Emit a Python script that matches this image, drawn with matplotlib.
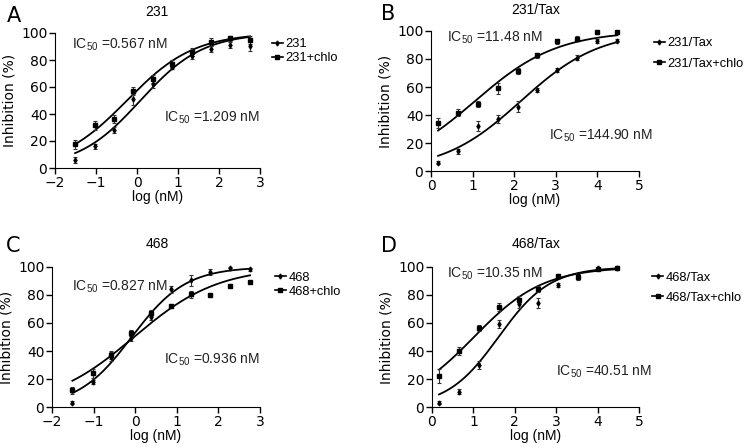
import numpy as np
import matplotlib
matplotlib.use("Agg")
import matplotlib.pyplot as plt

# dose points (log nM)
x_231 = [-1.51, -1.02, -0.57, -0.09, 0.38, 0.86, 1.33, 1.81, 2.28, 2.76]
x_tax = [0.17, 0.65, 1.13, 1.61, 2.09, 2.56, 3.04, 3.52, 4.00, 4.48]

# panel A: 231
a_plain = [6, 16, 28, 51, 62, 75, 83, 88, 91, 90]
a_plain_err = [2.5, 2, 2, 4, 3, 2, 2, 2, 2, 3]
a_chlo = [17.5, 31.5, 36.5, 57, 66, 77, 86, 93, 96, 95]
a_chlo_err = [3.5, 3, 3, 3, 3, 3, 3, 3, 2, 3]

# panel B: 231/Tax
b_plain = [6, 14, 32, 37, 46, 58, 72, 81, 93, 93]
b_plain_err = [1, 2, 3.5, 3, 4, 1.5, 1.5, 2, 1.5, 1]
b_chlo = [34.5, 41.5, 48, 59, 71.5, 82.5, 92.5, 94.5, 99, 99]
b_chlo_err = [3.5, 2.5, 2, 4, 2, 2, 1.5, 2, 1, 1]

# panel C: 468
c_plain = [3, 18, 36, 49, 64.5, 84, 90.5, 96.5, 99, 98.5]
c_plain_err = [1, 1.5, 3, 2, 2, 2.5, 4, 2, 1, 1]
c_chlo = [12, 24, 37, 53, 67, 72, 80.5, 80, 86.5, 89.5]
c_chlo_err = [2.5, 3, 3, 2, 2, 1.5, 2.5, 1, 0.5, 0.5]

# panel D: 468/Tax
d_plain = [3, 11, 30, 59.5, 73.5, 74.5, 87, 94, 99, 99.5]
d_plain_err = [1, 2, 3, 3, 3, 3.5, 1.5, 1.5, 0.5, 0.5]
d_chlo = [22, 40, 56.5, 71.5, 76.5, 84.5, 93.5, 93, 98.5, 99.5]
d_chlo_err = [5, 3, 2, 3, 2.5, 2, 1.5, 2, 0.5, 0.5]

# fitted 4PL curves: (IC50 in nM, hill slope) -> (with chlo, without)
fit_a = [(0.567, 0.53), (1.209, 0.57)]
fit_b = [(11.48, 0.44), (144.90, 0.46)]
fit_c = [(0.827, 0.67), (0.936, 0.43)]
fit_d = [(10.35, 0.52), (40.51, 0.70)]

titles = ["231", "231/Tax", "468", "468/Tax"]
letters = ["A", "B", "C", "D"]
legends = [["231", "231+chlo"], ["231/Tax", "231/Tax+chlo"],
           ["468", "468+chlo"], ["468/Tax", "468/Tax+chlo"]]

TXT = 'Liberation Sans'
plt.rcParams['font.family'] = ['DejaVu Sans']
plt.rcParams['mathtext.fontset'] = 'custom'
plt.rcParams['mathtext.rm'] = TXT
plt.rcParams['mathtext.it'] = TXT + ':italic'

fig = plt.figure(figsize=(7.48, 4.48), dpi=100)

# axes boxes in pixels: left, right, top, bottom
boxes = [(55, 260, 33, 168), (431, 639, 31, 171),
         (52, 260, 267, 407), (432, 639, 267, 407)]
letter_pos = [(14, 16), (388, 14), (13, 246), (389, 246)]
title_pos = [(157, 12), (536, 10), (157, 244), (536, 244)]


def make_ax(box):
    l, r, t, b = box
    return fig.add_axes([l / 748, (448 - b) / 448, (r - l) / 748, (b - t) / 448])


def curve(xs, ic50, hill):
    xx = np.linspace(xs[0], xs[-1], 200)
    yy = 100 / (1 + 10 ** ((np.log10(ic50) - xx) * hill))
    return xx, yy


panels = [
    (x_231, a_plain, a_plain_err, a_chlo, a_chlo_err, fit_a, (-2, 3),
     [("IC$_{50}$ =0.567 nM", -1.59, 91), ("IC$_{50}$ =1.209 nM", 0.66, 37)],
     (1.058, 0.96), 0.12),
    (x_tax, b_plain, b_plain_err, b_chlo, b_chlo_err, fit_b, (0, 5),
     [("IC$_{50}$ =11.48 nM", 0.38, 95), ("IC$_{50}$ =144.90 nM", 2.84, 25)],
     (1.072, 0.955), 0.65),
    (x_231, c_plain, c_plain_err, c_chlo, c_chlo_err, fit_c, (-2, 3),
     [("IC$_{50}$ =0.827 nM", -1.52, 86), ("IC$_{50}$ =0.936 nM", 0.69, 34)],
     (1.072, 0.965), 0.15),
    (x_tax, d_plain, d_plain_err, d_chlo, d_chlo_err, fit_d, (0, 5),
     [("IC$_{50}$ =10.35 nM", 0.36, 95), ("IC$_{50}$ =40.51 nM", 3.0, 25)],
     (1.063, 0.965), 0.6),
]

for i, (xs, yp, ep, yc, ec, fits, xlim, notes, leg_pos, lspace) in enumerate(panels):
    ax = make_ax(boxes[i])

    (ic_c, h_c), (ic_p, h_p) = fits
    ax.errorbar(xs, yp, yerr=ep, fmt='d', ms=2.5, color='black', ecolor='#333333',
                elinewidth=0.8, capsize=1.5, capthick=0.8, clip_on=False, zorder=3)
    ax.errorbar(xs, yc, yerr=ec, fmt='s', ms=2.5, color='black', ecolor='#333333',
                elinewidth=0.8, capsize=1.5, capthick=0.8, clip_on=False, zorder=3)
    xx, yy = curve(xs, ic_p, h_p)
    ax.plot(xx, yy, color='black', lw=1.3)
    xx, yy = curve(xs, ic_c, h_c)
    ax.plot(xx, yy, color='black', lw=1.3)

    # legend handles
    h1, = ax.plot([], [], '-d', color='black', ms=2.5, lw=1.2)
    h2, = ax.plot([], [], '-s', color='black', ms=2.5, lw=1.2)
    ax.legend([h1, h2], legends[i], loc='upper left', bbox_to_anchor=leg_pos,
              frameon=False, prop={'family': TXT, 'size': 9.3},
              handlelength=0.85, handletextpad=0.2,
              labelspacing=lspace, borderaxespad=0, borderpad=0)

    for text, tx, ty in notes:
        ax.text(tx, ty, text, fontsize=10, family=TXT, ha='left', va='center',
                color='#222222')

    ax.set_xlim(*xlim)
    ax.set_ylim(0, 100)
    ax.set_xticks(np.arange(xlim[0], xlim[1] + 1, 1))
    ax.set_yticks(np.arange(0, 101, 20))
    ax.set_xticklabels([str(v).replace('-', '\u2212') for v in range(xlim[0], xlim[1] + 1)])
    ax.spines['top'].set_visible(False)
    ax.spines['right'].set_visible(False)
    ax.tick_params(direction='out', length=4, width=1, labelsize=10, pad=1.5)
    ax.set_xlabel("log (nM)", fontsize=10, family=TXT, labelpad=0)
    ax.set_ylabel("Inhibition (%)", fontsize=10, labelpad=3)

    tx, ty = title_pos[i]
    fig.text(tx / 748, 1 - ty / 448, titles[i], fontsize=10, family=TXT,
             ha='center', va='center')
    lx, ly = letter_pos[i]
    fig.text(lx / 748, 1 - ly / 448, letters[i], fontsize=15,
             ha='center', va='center')

fig.savefig("out.png", dpi=100)
